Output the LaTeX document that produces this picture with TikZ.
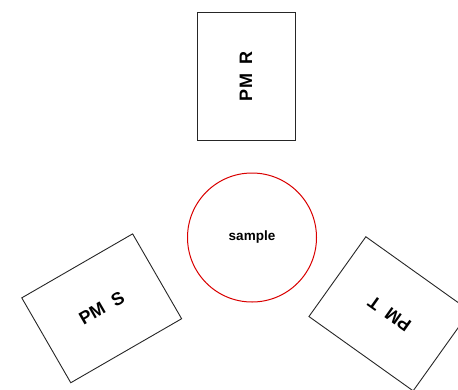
\documentclass[tikz,border=0pt]{standalone}
\usepackage{fontspec}
\setmainfont{Liberation Sans}
\begin{document}
\begin{tikzpicture}[x=1pt,y=-1pt,
  pmbox/.style={draw=black!85, line width=0.9pt, rectangle,
    minimum width=128pt, minimum height=98pt, inner sep=0pt,
    font=\fontsize{18}{20}\selectfont\bfseries},
  samplering/.style={draw=red!85!black, line width=1pt, circle,
    minimum size=129pt, inner sep=0pt,
    font=\fontsize{13.5}{15}\selectfont\bfseries}]
  \useasboundingbox (0,0) rectangle (458,389);
  \clip (0,0) rectangle (458,389);
  % sample at the centre
  \node[samplering] (sample) at (252,237.5) {sample};
  % three detector boxes around the sample
  \node[pmbox, rotate=90]    (pmr) at (246,76)      {PM\ \ R};
  \node[pmbox, rotate=30]    (pms) at (101.7,308.3) {PM\ \ S};
  \node[pmbox, rotate=144.5] (pmt) at (389.5,313.8) {PM\ \ T};
\end{tikzpicture}
\end{document}
